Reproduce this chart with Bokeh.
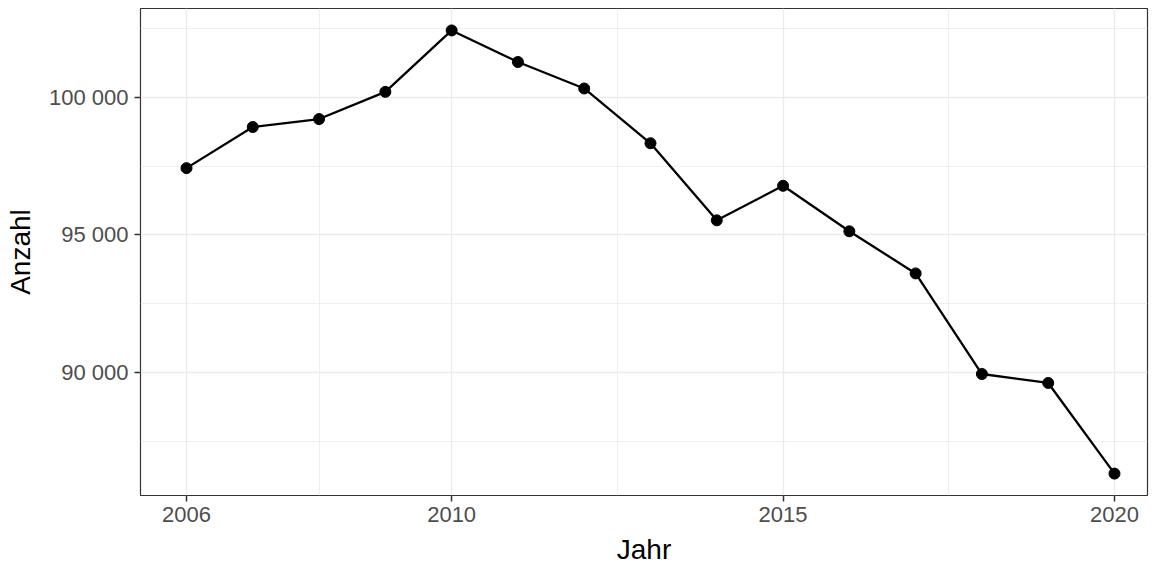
from bokeh.plotting import figure
from bokeh.models import FixedTicker, Range1d
from bokeh.embed import file_html
from bokeh.resources import INLINE

years = [2006, 2007, 2008, 2009, 2010, 2011, 2012, 2013, 2014, 2015, 2016, 2017, 2018, 2019, 2020]
anzahl = [97428, 98924, 99214, 100203, 102438, 101290, 100326, 98333, 95529, 96786, 95130, 93598, 89938, 89612, 86315]

x_ticks = [2006, 2010, 2015, 2020]
x_minor = [2008, 2012.5, 2017.5]
y_ticks = [90000, 95000, 100000]
y_minor = [87500, 92500, 97500, 102500]
y_labels = ["90 000", "95 000", "100 000"]

FONT = "Liberation Sans"

p = figure(width=1152, height=567, output_backend="svg", toolbar_location=None,
           x_range=Range1d(2005.306, 2020.498), y_range=Range1d(85518, 103236),
           min_border_left=140, min_border_right=5, min_border_top=8, min_border_bottom=70)

p.background_fill_color = "white"
p.border_fill_color = "white"
p.outline_line_color = "#333333"
p.outline_line_width = 1.2

p.xaxis.ticker = FixedTicker(ticks=x_ticks, minor_ticks=x_minor)
p.yaxis.ticker = FixedTicker(ticks=y_ticks, minor_ticks=y_minor)
p.yaxis.major_label_overrides = {t: l for t, l in zip(y_ticks, y_labels)}

for ax in (p.xaxis[0], p.yaxis[0]):
    ax.axis_line_color = None
    ax.major_tick_line_color = "#333333"
    ax.major_tick_line_width = 1.5
    ax.major_tick_out = 6
    ax.major_tick_in = 0
    ax.minor_tick_line_color = None
    ax.major_label_text_font = FONT
    ax.major_label_text_font_size = "22px"
    ax.major_label_text_color = "#4D4D4D"
    ax.axis_label_text_font = FONT
    ax.axis_label_text_font_size = "28px"
    ax.axis_label_text_font_style = "normal"
    ax.axis_label_text_color = "black"

p.xaxis.axis_label = "Jahr"
p.yaxis.axis_label = "Anzahl"
p.xaxis.major_label_standoff = 5
p.yaxis.major_label_standoff = 6
p.xaxis.axis_label_standoff = 9
p.yaxis.axis_label_standoff = 10

for g in (p.xgrid[0], p.ygrid[0]):
    g.grid_line_color = "#EBEBEB"
    g.grid_line_width = 1.3
    g.minor_grid_line_color = "#EBEBEB"
    g.minor_grid_line_width = 0.8

p.line(years, anzahl, line_color="black", line_width=2.3)
p.scatter(years, anzahl, size=11, fill_color="black", line_color="black")

open("out.html", "w").write(file_html(p, INLINE))
